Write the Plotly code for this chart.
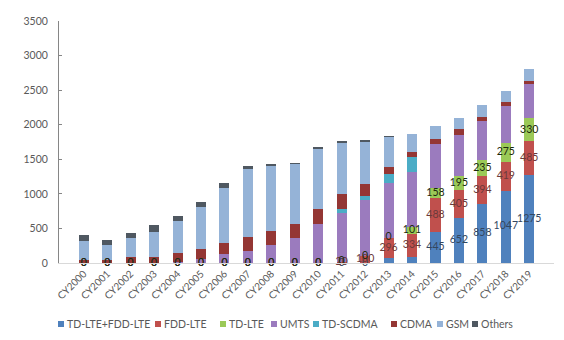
import plotly.graph_objects as go

years = ["CY2000", "CY2001", "CY2002", "CY2003", "CY2004", "CY2005", "CY2006",
         "CY2007", "CY2008", "CY2009", "CY2010", "CY2011", "CY2012", "CY2013",
         "CY2014", "CY2015", "CY2016", "CY2017", "CY2018", "CY2019"]

lte_both = [0, 0, 0, 0, 0, 0, 0, 0, 0, 0, 0, 0, 0, 70, 85, 445, 652, 858, 1047, 1275]
fdd_lte = [0, 0, 0, 0, 0, 0, 0, 0, 0, 0, 0, 20, 100, 296, 334, 488, 405, 394, 419, 485]
td_lte = [0, 0, 0, 0, 0, 0, 0, 0, 0, 0, 0, 0, 0, 0, 101, 158, 195, 235, 275, 330]
umts = [0, 0, 0, 0, 10, 60, 125, 175, 265, 355, 562, 700, 813, 789, 802, 630, 605, 564, 531, 500]
td_scdma = [0, 0, 0, 0, 0, 0, 0, 0, 0, 0, 0, 62, 62, 130, 208, 0, 0, 0, 0, 0]
cdma = [50, 45, 80, 85, 140, 145, 170, 195, 195, 208, 221, 217, 165, 109, 81, 73, 78, 66, 62, 47]
gsm = [265, 210, 275, 368, 460, 605, 790, 983, 945, 870, 867, 750, 622, 430, 256, 192, 168, 169, 159, 165]
others = [90, 80, 75, 95, 76, 70, 68, 48, 25, 10, 25, 8, 8, 4, 0, 0, 0, 0, 0, 0]

# years whose TD-LTE+FDD-LTE data label is not shown in the original
lte_label_hidden = ["CY2013", "CY2014"]

series = [
    ("TD-LTE+FDD-LTE", lte_both, "#4F81BD"),
    ("FDD-LTE", fdd_lte, "#C0504D"),
    ("TD-LTE", td_lte, "#9BC957"),
    ("UMTS", umts, "#9B7BBE"),
    ("TD-SCDMA", td_scdma, "#4BACC6"),
    ("CDMA", cdma, "#943634"),
    ("GSM", gsm, "#95B3D7"),
    ("Others", others, "#4F5861"),
]

FONT = "Lato"
fig = go.Figure()

for name, vals, col in series:
    fig.add_trace(go.Bar(x=years, y=vals, name=name, marker=dict(color=col, line=dict(width=0)),
                         showlegend=False))

# data labels for the three LTE series, centred on their segments
bases = [0] * len(years)
label_cfg = [
    (lte_both, "#34475F", lte_label_hidden),
    (fdd_lte, "#6B3A3A", []),
    (td_lte, "#1B2A0E", []),
]
for vals, tcol, hidden in label_cfg:
    ys = [b + v / 2 for b, v in zip(bases, vals)]
    txt = ["" if yr in hidden else str(v) for yr, v in zip(years, vals)]
    fig.add_trace(go.Scatter(x=years, y=ys, mode="text", text=txt,
                             textfont=dict(family=FONT, size=10.5, color=tcol),
                             textposition="middle center", showlegend=False,
                             hoverinfo="skip", cliponaxis=False))
    bases = [b + v for b, v in zip(bases, vals)]

# manual legend (single row like the original)
L, R, T, B = 59, 10, 21, 77
W, H = 564, 340
pw, ph = W - L - R, H - T - B
def px(x):
    return (x - L) / pw
def py(y):
    return (H - B - y) / ph

leg_x = [58, 155, 220, 271, 313, 391, 437, 472]
leg_y = 324
shapes = []
annotations = []
for (name, vals, col), x0 in zip(series, leg_x):
    shapes.append(dict(type="rect", xref="paper", yref="paper",
                       x0=px(x0), x1=px(x0 + 6), y0=py(leg_y + 3), y1=py(leg_y - 3),
                       fillcolor=col, line=dict(width=0)))
    annotations.append(dict(xref="paper", yref="paper", x=px(x0 + 7), y=py(leg_y),
                            xanchor="left", yanchor="middle", showarrow=False,
                            text=name, font=dict(family=FONT, size=10.5, color="#595959")))

fig.update_layout(
    barmode="stack",
    bargap=0.57,
    width=W, height=H,
    margin=dict(l=L, r=R, t=T, b=B, autoexpand=False),
    paper_bgcolor="white", plot_bgcolor="white",
    font=dict(family=FONT, size=10, color="#595959"),
    shapes=shapes, annotations=annotations,
    showlegend=False,
)
fig.update_xaxes(type="category", tickangle=-45, showline=True, linecolor="#D9D9D9",
                 linewidth=1, ticks="", showgrid=False, zeroline=False,
                 tickfont=dict(family=FONT, size=10, color="#595959"))
fig.update_yaxes(range=[0, 3500], dtick=500, showline=True, linecolor="#868686", linewidth=1,
                 ticks="inside", ticklen=3, tickcolor="#868686", showgrid=False, zeroline=False,
                 ticklabelstandoff=8,
                 tickfont=dict(family=FONT, size=10.5, color="#595959"))

fig.write_html("out.html")
